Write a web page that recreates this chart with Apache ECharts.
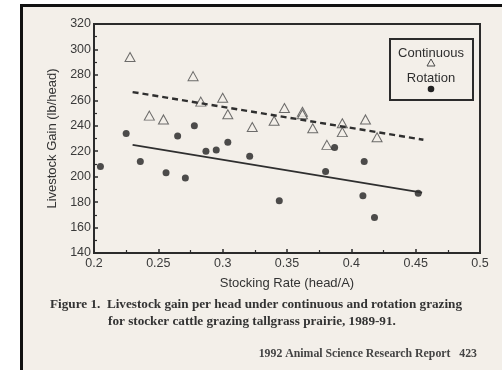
<!DOCTYPE html>
<html>
<head>
<meta charset="utf-8">
<script src="https://cdn.jsdelivr.net/npm/echarts@6/dist/echarts.min.js"></script>
<style>
html,body{margin:0;padding:0;background:#ffffff;}
#c{width:502px;height:370px;}
</style>
</head>
<body>
<div id="c"></div>
<script>
// Data
const continuousX = [0.228,0.243,0.254,0.277,0.283,0.300,0.304,0.323,0.340,0.348,0.362,0.362,0.370,0.381,0.393,0.393,0.411,0.420];
const continuousY = [294,248,245,279,259,262,249,239,244,254,251,249,238,225,242,235,245,231];
const rotationX = [0.205,0.225,0.236,0.256,0.265,0.271,0.278,0.287,0.295,0.304,0.321,0.344,0.380,0.387,0.410,0.409,0.418,0.452];
const rotationY = [208,234,212,203,232,199,240,220,221,227,216,181,204,223,212,185,168,187];
const continuousFitX = [0.230,0.456];
const continuousFitY = [266.5,229];
const rotationFitX = [0.230,0.455];
const rotationFitY = [225,187.5];
const xTicks = [0.2,0.25,0.3,0.35,0.4,0.45,0.5];
const yTicks = [140,160,180,200,220,240,260,280,300,320];
const seriesNames = ['Continuous','Rotation'];
const xTitle = 'Stocking Rate (head/A)';
const yTitle = 'Livestock Gain (lb/head)';
const captionLine1 = 'Figure 1.  Livestock gain per head under continuous and rotation grazing';
const captionLine2 = 'for stocker cattle grazing tallgrass prairie, 1989-91.';
const footer = '1992 Animal Science Research Report   423';

const zip = (a,b)=>a.map((v,i)=>[v,b[i]]);
const ink = '#2b2b2b';
const paper = '#f3efe9';
const sans = 'Liberation Sans, Arial, sans-serif';
const serif = 'Liberation Serif, Times New Roman, serif';

const chart = echarts.init(document.getElementById('c'), null, {renderer:'canvas'});
chart.setOption({
  backgroundColor: paper,
  animation: false,
  grid: {left:94, right:22, top:24, bottom:117, show:true, borderColor:ink, borderWidth:2, backgroundColor:'transparent'},
  xAxis: {
    type:'value', min:xTicks[0], max:xTicks[xTicks.length-1], interval:0.05,
    name:xTitle, nameLocation:'middle', nameGap:24,
    nameTextStyle:{fontFamily:sans, fontSize:13, color:'#333'},
    axisLine:{show:true, lineStyle:{color:ink, width:2}},
    axisTick:{show:true, inside:true, length:4, lineStyle:{color:ink, width:1.5}},
    minorTick:{show:true, splitNumber:2, length:3, lineStyle:{color:ink, width:1.2}},
    splitLine:{show:false},
    axisLabel:{fontFamily:sans, fontSize:12.5, color:'#3a3a3a', margin:4,
      formatter:v=>String(+v.toFixed(2))}
  },
  yAxis: {
    type:'value', min:yTicks[0], max:yTicks[yTicks.length-1], interval:20,
    name:yTitle, nameLocation:'middle', nameGap:33,
    nameTextStyle:{fontFamily:sans, fontSize:13, color:'#333'},
    axisLine:{show:true, lineStyle:{color:ink, width:2}},
    axisTick:{show:true, inside:true, length:4, lineStyle:{color:ink, width:1.5}},
    minorTick:{show:true, splitNumber:2, length:3, lineStyle:{color:ink, width:1.2}},
    splitLine:{show:false},
    axisLabel:{fontFamily:sans, fontSize:12.5, color:'#3a3a3a', margin:3}
  },
  series: [
    {name:seriesNames[0], type:'scatter', data:zip(continuousX,continuousY),
     symbol:'triangle', symbolSize:[10,9],
     itemStyle:{color:paper, borderColor:'#4a4a4a', borderWidth:1}},
    {name:seriesNames[1], type:'scatter', data:zip(rotationX,rotationY),
     symbol:'circle', symbolSize:7,
     itemStyle:{color:'#222'}},
    {name:seriesNames[0]+' fit', type:'line', data:zip(continuousFitX,continuousFitY),
     showSymbol:false, symbol:'none',
     lineStyle:{color:'#2f2f2f', width:2.4, type:[6,4]}},
    {name:seriesNames[1]+' fit', type:'line', data:zip(rotationFitX,rotationFitY),
     showSymbol:false, symbol:'none',
     lineStyle:{color:'#2f2f2f', width:1.8}}
  ],
  graphic: [
    // scanned page border
    {type:'rect', shape:{x:0,y:0,width:21,height:370}, style:{fill:'#ffffff'}, silent:true},
    {type:'rect', shape:{x:0,y:0,width:502,height:4}, style:{fill:'#ffffff'}, silent:true},
    {type:'rect', shape:{x:20,y:4,width:3,height:366}, style:{fill:'#111'}, silent:true},
    {type:'rect', shape:{x:20,y:4,width:482,height:3}, style:{fill:'#111'}, silent:true},
    // legend box
    {type:'rect', shape:{x:390,y:39,width:83,height:61}, style:{fill:'transparent', stroke:ink, lineWidth:2}},
    {type:'text', x:431, y:53, style:{text:seriesNames[0], font:'13px '+sans, fill:'#2e2e2e', align:'center', verticalAlign:'middle'}},
    {type:'polygon', shape:{points:[[431,59],[435,66],[427,66]]}, style:{fill:'transparent', stroke:'#4a4a4a', lineWidth:1}},
    {type:'text', x:431, y:78, style:{text:seriesNames[1], font:'13px '+sans, fill:'#2e2e2e', align:'center', verticalAlign:'middle'}},
    {type:'circle', shape:{cx:431, cy:89, r:3.3}, style:{fill:'#222'}},
    // caption
    {type:'text', x:50, y:305, style:{text:captionLine1, font:'bold 13.2px '+serif, fill:'#333', verticalAlign:'middle'}},
    {type:'text', x:108, y:322, style:{text:captionLine2, font:'bold 13.2px '+serif, fill:'#333', verticalAlign:'middle'}},
    {type:'text', x:477, y:354, style:{text:footer, font:'bold 11.8px '+serif, fill:'#444', align:'right', verticalAlign:'middle'}}
  ]
});
</script>
</body>
</html>
